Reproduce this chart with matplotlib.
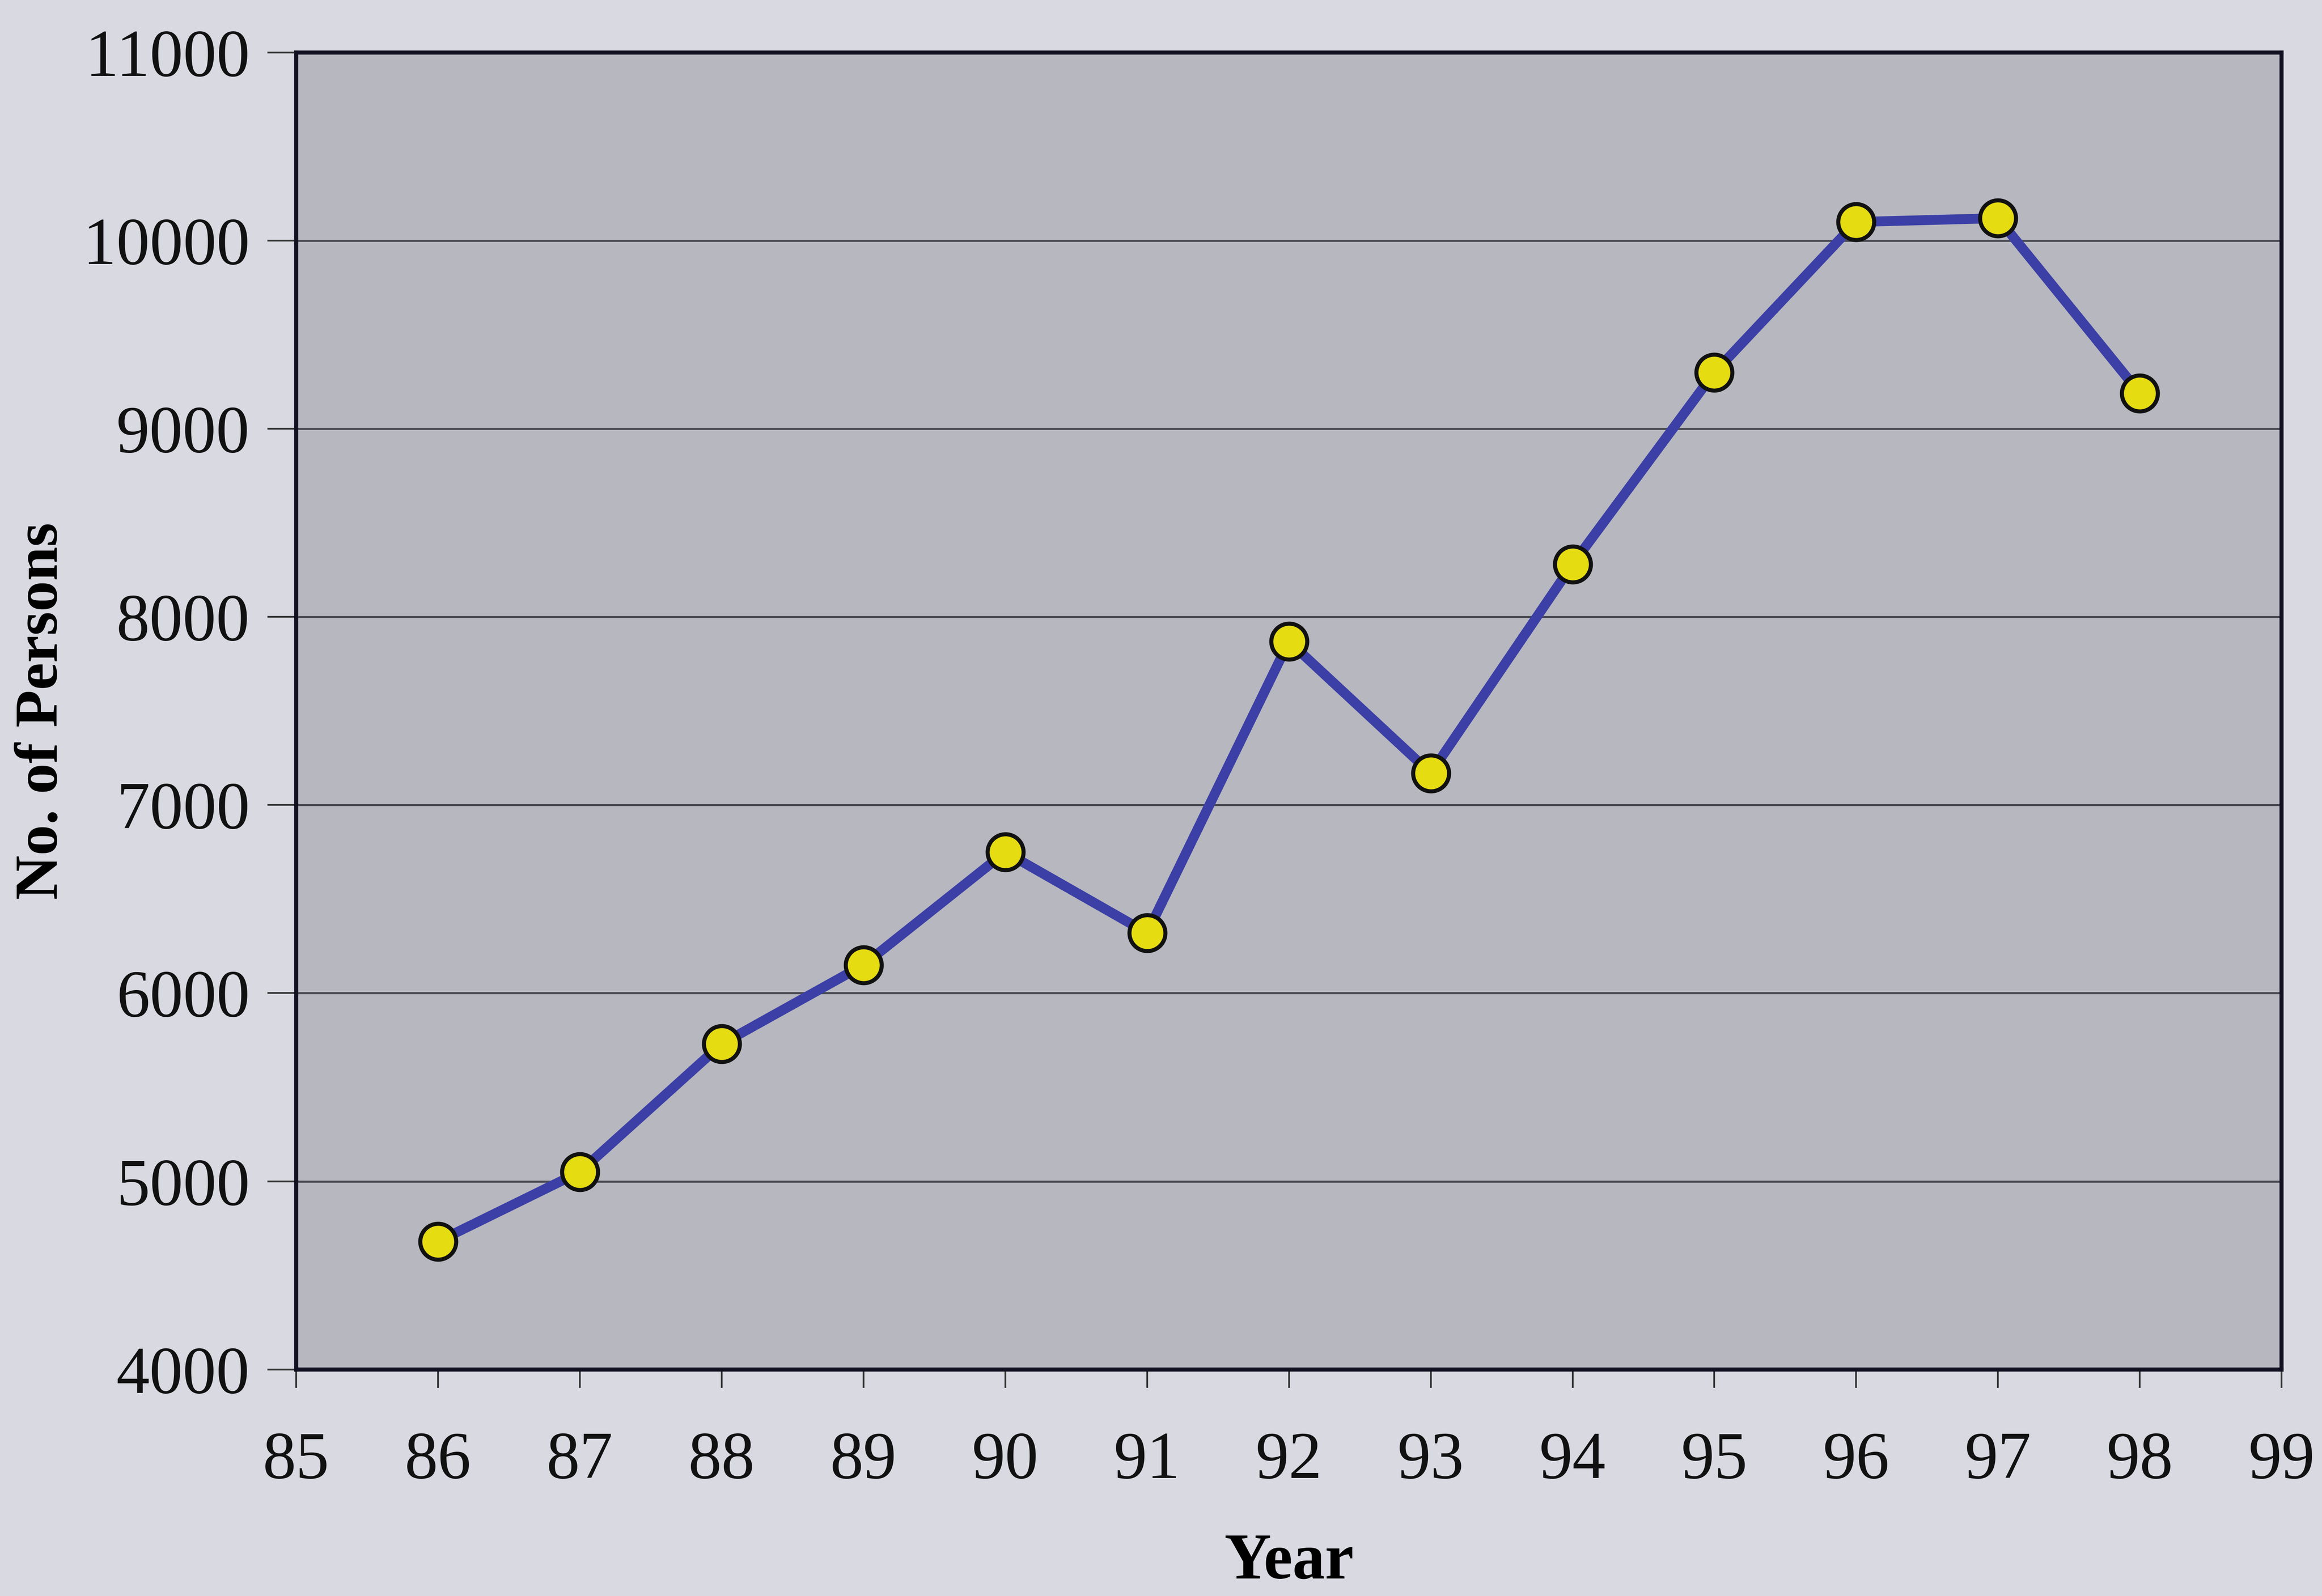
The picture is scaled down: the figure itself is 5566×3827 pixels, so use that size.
import matplotlib
matplotlib.use("Agg")
import matplotlib.pyplot as plt

# yearly head count
years = [86, 87, 88, 89, 90, 91, 92, 93, 94, 95, 96, 97, 98]
persons = [4680, 5050, 5730, 6150, 6750, 6320, 7870, 7170, 8280, 9300, 10100, 10120, 9190]

x_ticks = list(range(85, 100))
y_ticks = list(range(4000, 11001, 1000))

plt.rcParams['font.family'] = ['Liberation Serif', 'DejaVu Serif']

fig = plt.figure(figsize=(55.66, 38.27), dpi=100)
fig.patch.set_facecolor('#d9d9e2')
ax = fig.add_axes([0.1276, 0.142, 0.855, 0.825])
ax.set_facecolor('#b7b7bf')

ax.plot(years, persons, color='#3b3fa6', linewidth=17, zorder=3,
        marker='o', markersize=62, markerfacecolor='#e6dc12',
        markeredgecolor='#111111', markeredgewidth=7)

ax.set_xlim(85, 99)
ax.set_ylim(4000, 11000)
ax.set_xticks(x_ticks)
ax.set_yticks(y_ticks)
ax.yaxis.grid(True, color='#4a4a52', linewidth=3.5)
ax.set_axisbelow(True)

for side in ['left', 'right', 'top', 'bottom']:
    ax.spines[side].set_color('#111122')
    ax.spines[side].set_linewidth(7)

ax.tick_params(axis='both', direction='out', labelsize=115, color='#333333',
               width=3, labelcolor='#111111')
ax.tick_params(axis='x', length=32, pad=75)
ax.tick_params(axis='y', length=50, pad=30)

ax.set_xlabel('Year', fontsize=112, fontweight='bold', labelpad=70)
ax.set_ylabel('No. of Persons', fontsize=106, fontweight='bold')
ax.yaxis.set_label_coords(-0.114, 0.5)

fig.savefig('out.png', dpi=100, facecolor=fig.get_facecolor())
